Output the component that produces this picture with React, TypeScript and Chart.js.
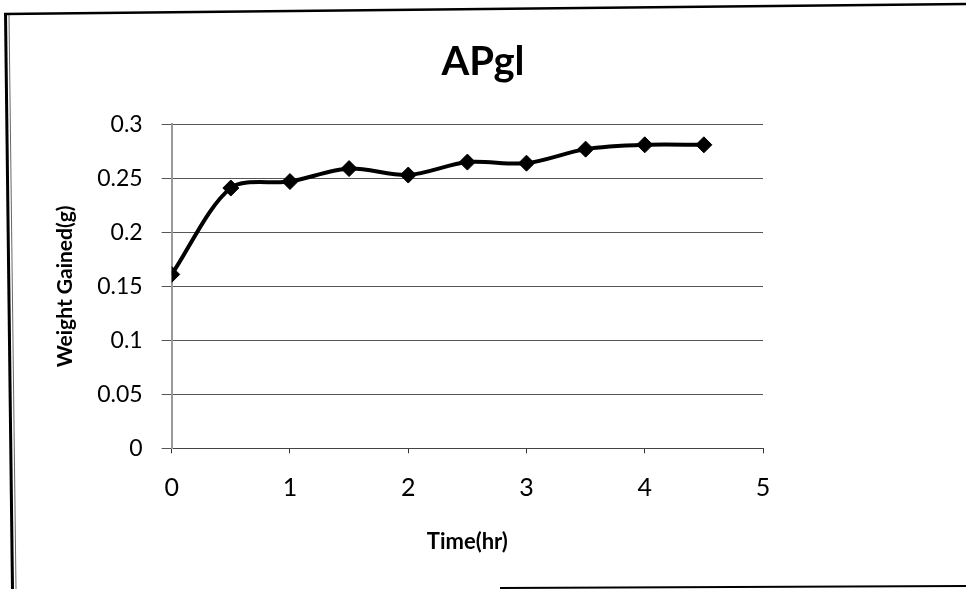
import React, { useEffect, useRef } from "react";
import { Chart, registerables } from "chart.js";

Chart.register(...registerables);

const chartTitle = "APgl";
const xAxisTitle = "Time(hr)";
const yAxisTitle = "Weight Gained(g)";
const timeHr = [0, 0.5, 1, 1.5, 2, 2.5, 3, 3.5, 4, 4.5];
const weightGained = [0.161, 0.241, 0.247, 0.259, 0.253, 0.265, 0.264, 0.277, 0.281, 0.281];
const xMin = 0;
const xMax = 5;
const xStep = 1;
const yMin = 0;
const yMax = 0.3;
const yStep = 0.05;

const FONT = "Lato, 'Open Sans', sans-serif";

const framePlugin = {
  id: "scanFrame",
  beforeDraw(chart: any) {
    const ctx = chart.ctx;
    const w = chart.width;
    const h = chart.height;
    ctx.save();
    ctx.fillStyle = "#ffffff";
    ctx.fillRect(0, 0, w, h);
    ctx.strokeStyle = "#000000";
    ctx.lineWidth = 3;
    ctx.beginPath();
    ctx.moveTo(5.5, 13);
    ctx.lineTo(12.5, h);
    ctx.stroke();
    ctx.lineWidth = 1;
    ctx.strokeStyle = "#666666";
    ctx.beginPath();
    ctx.moveTo(9, 15);
    ctx.lineTo(16, h);
    ctx.stroke();
    ctx.strokeStyle = "#000000";
    ctx.lineWidth = 2.5;
    ctx.beginPath();
    ctx.moveTo(4, 14);
    ctx.lineTo(w, 4);
    ctx.stroke();
    ctx.lineWidth = 2;
    ctx.beginPath();
    ctx.moveTo(500, 588);
    ctx.lineTo(w, 586);
    ctx.stroke();
    ctx.restore();
  },
};

export default function App() {
  const canvasRef = useRef<HTMLCanvasElement | null>(null);

  useEffect(() => {
    if (!canvasRef.current) return;
    const points = timeHr.map((t, i) => ({ x: t, y: weightGained[i] }));
    const chart = new Chart(canvasRef.current, {
      type: "line",
      data: {
        datasets: [
          {
            label: "APgl",
            data: points,
            borderColor: "#000000",
            backgroundColor: "#000000",
            borderWidth: 4,
            tension: 0.3,
            pointStyle: "rectRot",
            pointRadius: 8,
            pointBorderWidth: 1,
            pointBackgroundColor: "#000000",
            pointBorderColor: "#000000",
            fill: false,
            yAxisID: "y",
          },
        ],
      },
      options: {
        responsive: false,
        animation: false,
        layout: { padding: 0 },
        plugins: {
          legend: { display: false },
          tooltip: { enabled: false },
          title: {
            display: true,
            text: chartTitle,
            color: "#000000",
            font: { family: FONT, size: 40, weight: "bold", lineHeight: 1.2 },
            padding: { top: 38, bottom: 38.3 },
          },
        },
        scales: {
          x: {
            type: "linear",
            min: xMin,
            max: xMax,
            afterFit: (scale: any) => {
              scale.height = 140.7;
            },
            ticks: {
              stepSize: xStep,
              color: "#000000",
              padding: 20,
              font: { family: FONT, size: 25 },
            },
            grid: {
              drawOnChartArea: false,
              drawTicks: true,
              tickLength: 5,
              color: "#333333",
            },
            border: { display: true, color: "#444444", width: 1 },
            title: {
              display: true,
              text: xAxisTitle,
              color: "#000000",
              font: { family: FONT, size: 22, weight: "bold", lineHeight: 1.2 },
              padding: { top: 0, bottom: 34 },
            },
          },
          y: {
            type: "linear",
            position: "left",
            min: yMin,
            max: yMax,
            afterFit: (scale: any) => {
              scale.width = 171.7;
            },
            ticks: {
              stepSize: yStep,
              color: "#000000",
              padding: 19,
              font: { family: FONT, size: 23 },
              callback: (v: any) => String(Number(Number(v).toFixed(2))),
            },
            grid: {
              color: "#555555",
              lineWidth: 1,
              tickLength: 10,
              drawTicks: true,
            },
            border: { display: true, color: "#999999", width: 2 },
            title: {
              display: true,
              text: yAxisTitle,
              color: "#000000",
              font: { family: FONT, size: 21, weight: "bold", lineHeight: 1.2 },
              padding: { top: 53, bottom: 0 },
            },
          },
          yRightSpace: {
            type: "linear",
            position: "right",
            display: true,
            afterFit: (scale: any) => {
              scale.width = 203;
            },
            ticks: { display: false },
            grid: { display: false, drawTicks: false },
            border: { display: false },
            title: { display: false },
          },
        },
      },
      plugins: [framePlugin],
    });
    return () => chart.destroy();
  }, []);

  return (
    <div
      style={{
        position: "absolute",
        left: 0,
        top: 0,
        width: 966,
        height: 589,
        background: "#ffffff",
      }}
    >
      <canvas ref={canvasRef} width={966} height={589} style={{ display: "block" }} />
    </div>
  );
}
